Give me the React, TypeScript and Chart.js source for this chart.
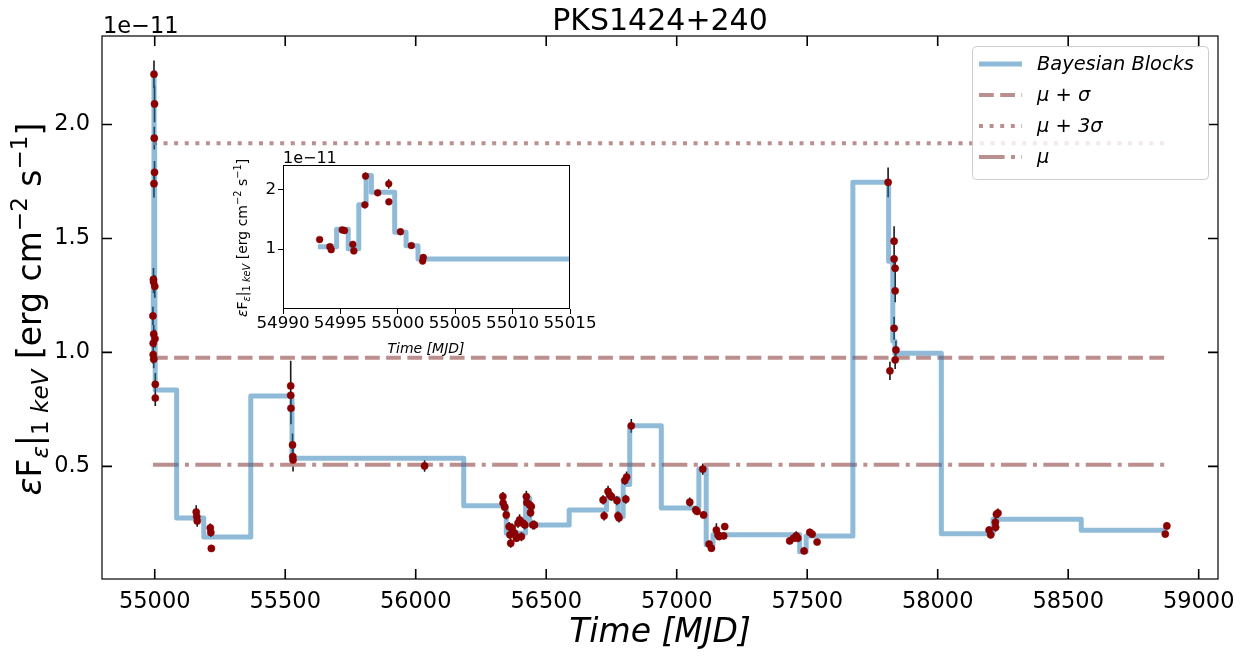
import React, { useEffect, useRef } from "react";
import { Chart, registerables } from "chart.js";
Chart.register(...registerables);

// ---------------- data (flux in units of 1e-11 erg cm^-2 s^-1) ----------------
const obsTime: number[] = [
  54993.19, 54994.08, 54994.2, 54995.16, 54995.36, 54996.08, 54996.17, 54997.13, 54997.19, 54998.25,
  54999.21, 54999.22, 55000.23, 55001.18, 55002.16, 55002.22,
  55159, 55161, 55163, 55213, 55215, 55217,
  55521, 55521, 55522, 55528, 55529, 55530, 56034,
  56334, 56335, 56341, 56347, 56358, 56361, 56364, 56370, 56379, 56386, 56392, 56398, 56405, 56411,
  56418, 56424, 56426, 56437, 56440, 56443, 56449, 56455,
  56718, 56722, 56737, 56743, 56750, 56771, 56775, 56779, 56801, 56805, 56808, 56826,
  57050, 57073, 57078, 57100, 57103, 57124, 57133, 57152, 57158, 57162, 57180, 57184,
  57433, 57448, 57458, 57464, 57488, 57510, 57519, 57538,
  57810, 57817, 57833, 57833, 57837, 57837, 57833, 57840, 57837,
  58197, 58203, 58221, 58222, 58225, 58231,
  58872, 58878,
];
const obsFlux: number[] = [
  1.16, 1.04, 0.99, 1.32, 1.31, 1.08, 0.97, 1.74, 2.22, 1.94,
  2.09, 1.79, 1.29, 1.06, 0.8, 0.86,
  0.3, 0.28, 0.26, 0.23, 0.21, 0.14,
  0.853, 0.812, 0.755, 0.594, 0.543, 0.528, 0.502,
  0.368, 0.339, 0.321, 0.287, 0.236, 0.2, 0.163, 0.229, 0.207, 0.185, 0.251, 0.265, 0.192, 0.251,
  0.243, 0.368, 0.341, 0.331, 0.297, 0.324, 0.243, 0.243,
  0.353, 0.283, 0.39, 0.375, 0.368, 0.35, 0.283, 0.274, 0.438, 0.356, 0.453, 0.678,
  0.343, 0.309, 0.302, 0.488, 0.287, 0.159, 0.141, 0.221, 0.2, 0.192, 0.195, 0.236,
  0.173, 0.185, 0.195, 0.185, 0.129, 0.211, 0.203, 0.168,
  1.746, 0.919, 1.488, 1.41, 1.369, 1.27, 1.106, 1.011, 0.967,
  0.221, 0.2, 0.255, 0.233, 0.29, 0.295,
  0.203, 0.239,
];
const obsErr: number[] = [
  0.04, 0.04, 0.04, 0.05, 0.05, 0.04, 0.04, 0.06, 0.06, 0.05,
  0.08, 0.05, 0.05, 0.04, 0.035, 0.05,
  0.03, 0.025, 0.025, 0.02, 0.02, 0.015,
  0.11, 0.06, 0.07, 0.05, 0.03, 0.05, 0.025,
  0.02, 0.02, 0.02, 0.02, 0.02, 0.02, 0.02, 0.02, 0.015, 0.015, 0.02, 0.025, 0.02, 0.02,
  0.02, 0.025, 0.02, 0.02, 0.02, 0.02, 0.02, 0.02,
  0.02, 0.02, 0.025, 0.02, 0.02, 0.02, 0.02, 0.02, 0.02, 0.02, 0.025, 0.03,
  0.02, 0.015, 0.015, 0.025, 0.015, 0.015, 0.015, 0.03, 0.02, 0.015, 0.015, 0.015,
  0.015, 0.015, 0.02, 0.015, 0.01, 0.015, 0.015, 0.01,
  0.065, 0.04, 0.065, 0.05, 0.05, 0.05, 0.05, 0.04, 0.04,
  0.015, 0.015, 0.02, 0.02, 0.02, 0.02,
  0.01, 0.015,
];

// Bayesian block edges (n+1) and block levels (n)
const blockEdges: number[] = [
  54993.04, 54994.67, 54995.68, 54996.6, 54997.24, 54997.7, 54999.73, 55000.72, 55001.76, 55084,
  55188, 55368, 55526, 56184, 56347, 56421, 56437, 56588, 56731, 56775,
  56795, 56820, 56941, 57085, 57113, 57139, 57471, 57496, 57675, 57812,
  57828, 57836, 58014, 58212, 58550, 58881,
];
const blockFlux: number[] = [
  1.04, 1.33, 1.005, 1.74, 2.23, 1.95, 1.28, 1.055, 0.835, 0.274,
  0.19, 0.809, 0.536, 0.327, 0.207, 0.36, 0.243, 0.309, 0.36, 0.28,
  0.42, 0.678, 0.317, 0.488, 0.156, 0.2, 0.126, 0.195, 1.746, 1.4,
  1.05, 0.996, 0.205, 0.268, 0.22,
];

const meanFlux = 0.507;
const stdFlux = 0.47;

const xTicksMain = [55000, 55500, 56000, 56500, 57000, 57500, 58000, 58500, 59000];
const yTicksMain = [0.5, 1.0, 1.5, 2.0];
const xTicksInset = [54990, 54995, 55000, 55005, 55010, 55015];
const yTicksInset = [1, 2];

// ---------------- styling ----------------
const FONT = "'DejaVu Sans', sans-serif";
const BLUE = "rgba(31,119,180,0.5)";
const RED = "#8b0000";
const ROSY = "#bc8f8f";
const DASH = [14.8, 6.4];
const DOT = [4, 6.6];
const DASHDOT = [25.6, 6.4, 4, 6.4];

type Seg = { t: string; it?: boolean; sub?: boolean; sup?: boolean };
const yLabelSegs: Seg[] = [
  { t: "ε", it: true },
  { t: "F" },
  { t: "ε", it: true, sub: true },
  { t: "|" },
  { t: "1 ", sub: true },
  { t: "keV", it: true, sub: true },
  { t: " [erg cm" },
  { t: "−2", sup: true },
  { t: " s" },
  { t: "−1", sup: true },
  { t: "]" },
];

function drawRich(ctx: CanvasRenderingContext2D, segs: Seg[], size: number, cx: number, cy: number, rotated: boolean) {
  const fontFor = (s: Seg) => `${s.it ? "italic " : ""}${s.sub || s.sup ? size * 0.7 : size}px ${FONT}`;
  let total = 0;
  const widths = segs.map((s) => {
    ctx.font = fontFor(s);
    const w = ctx.measureText(s.t).width;
    total += w;
    return w;
  });
  ctx.save();
  ctx.translate(cx, cy);
  if (rotated) ctx.rotate(-Math.PI / 2);
  ctx.textAlign = "left";
  ctx.textBaseline = "alphabetic";
  ctx.fillStyle = "#000";
  let xx = -total / 2;
  const base = size * 0.36;
  segs.forEach((s, i) => {
    ctx.font = fontFor(s);
    const dy = s.sub ? size * 0.22 : s.sup ? -size * 0.42 : 0;
    ctx.fillText(s.t, xx, base + dy);
    xx += widths[i];
  });
  ctx.restore();
}

function drawErrorBars(chart: any, color: string, width: number) {
  const { ctx, chartArea: a, scales } = chart;
  const x = scales.x, y = scales.y;
  ctx.save();
  ctx.beginPath();
  ctx.rect(a.left, a.top, a.right - a.left, a.bottom - a.top);
  ctx.clip();
  ctx.strokeStyle = color;
  ctx.lineWidth = width;
  ctx.beginPath();
  for (let i = 0; i < obsTime.length; i++) {
    const xp = x.getPixelForValue(obsTime[i]);
    if (xp < a.left - 2 || xp > a.right + 2) continue;
    ctx.moveTo(xp, y.getPixelForValue(obsFlux[i] - obsErr[i]));
    ctx.lineTo(xp, y.getPixelForValue(obsFlux[i] + obsErr[i]));
  }
  ctx.stroke();
  ctx.restore();
}

function buildDatasets(pointR: number, clip: number | undefined, withLines: boolean) {
  const stepPoints = blockFlux
    .map((v, i) => ({ x: blockEdges[i], y: v }))
    .concat([{ x: blockEdges[blockEdges.length - 1], y: blockFlux[blockFlux.length - 1] }]);
  const t0 = obsTime[0];
  const t1 = obsTime[obsTime.length - 1];
  const hline = (v: number, dash: number[], label: string) => ({
    label,
    data: [{ x: t0, y: v }, { x: t1, y: v }],
    borderColor: ROSY,
    borderWidth: 4,
    borderDash: dash,
    pointRadius: 0,
    fill: false,
    clip,
  });
  const sets: any[] = [
    {
      label: "obs",
      data: obsTime.map((t, i) => ({ x: t, y: obsFlux[i] })),
      showLine: false,
      pointRadius: pointR,
      pointBackgroundColor: RED,
      pointBorderColor: RED,
      pointBorderWidth: 0.5,
      clip,
    },
    {
      label: "Bayesian Blocks",
      data: stepPoints,
      stepped: "before",
      borderColor: BLUE,
      borderWidth: 5,
      borderJoinStyle: "round",
      pointRadius: 0,
      fill: false,
      clip,
    },
  ];
  if (withLines) {
    sets.push(hline(meanFlux, DASHDOT, "μ"));
    sets.push(hline(meanFlux + stdFlux, DASH, "μ + σ"));
    sets.push(hline(meanFlux + 3 * stdFlux, DOT, "μ + 3σ"));
  }
  return sets;
}

const legendRows = [
  { label: "Bayesian Blocks", color: BLUE, width: 5, dash: [] as number[] },
  { label: "μ + σ", color: ROSY, width: 4, dash: DASH },
  { label: "μ + 3σ", color: ROSY, width: 4, dash: DOT },
  { label: "μ", color: ROSY, width: 4, dash: DASHDOT },
];

const mainDecor = {
  id: "mainDecor",
  beforeDatasetsDraw(chart: any) {
    drawErrorBars(chart, "#1a1a1a", 1.6);
  },
  afterDraw(chart: any) {
    const { ctx, chartArea: a, scales } = chart;
    const x = scales.x, y = scales.y;
    ctx.save();
    ctx.strokeStyle = "#000";
    ctx.lineWidth = 1.2;
    ctx.strokeRect(a.left, a.top, a.right - a.left, a.bottom - a.top);
    ctx.lineWidth = 1.6;
    ctx.beginPath();
    for (const v of xTicksMain) {
      const p = x.getPixelForValue(v);
      ctx.moveTo(p, a.bottom);
      ctx.lineTo(p, a.bottom - 10);
      ctx.moveTo(p, a.top);
      ctx.lineTo(p, a.top + 10);
    }
    for (const v of yTicksMain) {
      const p = y.getPixelForValue(v);
      ctx.moveTo(a.left, p);
      ctx.lineTo(a.left + 10, p);
      ctx.moveTo(a.right, p);
      ctx.lineTo(a.right - 10, p);
    }
    ctx.stroke();

    ctx.fillStyle = "#000";
    ctx.textBaseline = "alphabetic";
    ctx.textAlign = "center";
    ctx.font = `30px ${FONT}`;
    ctx.fillText("PKS1424+240", 660, 30);
    ctx.textAlign = "left";
    ctx.font = `22.5px ${FONT}`;
    ctx.fillText("1e−11", 103, 33);
    ctx.textAlign = "center";
    ctx.font = `italic 33px ${FONT}`;
    ctx.fillText("Time [MJD]", 660, 642);
    drawRich(ctx, yLabelSegs, 33, 29, 309, true);

    // legend
    const L = { x: 972, y: 46, w: 236, h: 133 };
    ctx.beginPath();
    ctx.roundRect(L.x + 0.5, L.y + 0.5, L.w, L.h, 4);
    ctx.fillStyle = "rgba(255,255,255,0.8)";
    ctx.fill();
    ctx.strokeStyle = "#cccccc";
    ctx.lineWidth = 1;
    ctx.stroke();
    const rowsY = [64, 95, 126, 157];
    legendRows.forEach((r, i) => {
      const yy = rowsY[i];
      ctx.beginPath();
      ctx.setLineDash(r.dash);
      ctx.strokeStyle = r.color;
      ctx.lineWidth = r.width;
      ctx.lineCap = "butt";
      ctx.moveTo(979, yy);
      ctx.lineTo(1022, yy);
      ctx.stroke();
      ctx.setLineDash([]);
      ctx.fillStyle = "#000";
      ctx.font = `italic 19.4px ${FONT}`;
      ctx.textAlign = "left";
      ctx.textBaseline = "middle";
      ctx.fillText(r.label, 1037, yy + 1);
    });
    ctx.restore();
  },
};

const insetDecor = {
  id: "insetDecor",
  beforeDraw(chart: any) {
    const { ctx, chartArea: a } = chart;
    ctx.save();
    ctx.fillStyle = "#fff";
    ctx.fillRect(a.left, a.top, a.right - a.left, a.bottom - a.top);
    ctx.restore();
  },
  beforeDatasetsDraw(chart: any) {
    drawErrorBars(chart, "#1a1a1a", 1.3);
  },
  afterDraw(chart: any) {
    const { ctx, chartArea: a } = chart;
    ctx.save();
    ctx.strokeStyle = "#000";
    ctx.lineWidth = 1;
    ctx.strokeRect(a.left + 0.5, a.top + 0.5, a.right - a.left - 1, a.bottom - a.top - 1);
    ctx.fillStyle = "#000";
    ctx.textBaseline = "alphabetic";
    ctx.textAlign = "left";
    ctx.font = `16px ${FONT}`;
    ctx.fillText("1e−11", 83, 23);
    ctx.textAlign = "center";
    ctx.font = `italic 14px ${FONT}`;
    ctx.fillText("Time [MJD]", 226, 213);
    drawRich(ctx, yLabelSegs, 14, 42, 98, true);
    ctx.restore();
  },
};

function tickScale(min: number, max: number, ticks: number[], fmt: (v: number) => string, size: number, pad: number, fitter: (s: any) => void, outward: boolean) {
  return {
    type: "linear" as const,
    min,
    max,
    afterBuildTicks: (s: any) => {
      s.ticks = ticks.map((v) => ({ value: v }));
    },
    afterFit: fitter,
    ticks: {
      autoSkip: false,
      maxRotation: 0,
      minRotation: 0,
      padding: pad,
      color: "#000",
      font: { family: FONT, size },
      callback: (v: any) => fmt(Number(v)),
    },
    grid: outward
      ? { display: true, drawOnChartArea: false, drawTicks: true, tickLength: 5, color: "#000", lineWidth: 1 }
      : { display: false },
    border: { display: false },
  };
}

export default function App() {
  const mainRef = useRef<HTMLCanvasElement | null>(null);
  const insetRef = useRef<HTMLCanvasElement | null>(null);

  useEffect(() => {
    const main = new Chart(mainRef.current as HTMLCanvasElement, {
      type: "line",
      data: { datasets: buildDatasets(3.6, undefined, true) as any },
      options: {
        responsive: false,
        animation: false,
        events: [],
        layout: { padding: { left: 0, right: 26, top: 36, bottom: 0 } },
        plugins: { legend: { display: false }, tooltip: { enabled: false }, title: { display: false } },
        scales: {
          x: tickScale(54798, 59074, xTicksMain, (v) => String(Math.round(v)), 22.5, 2, (s) => { s.height = 82; }, false),
          y: tickScale(0.006, 2.388, yTicksMain, (v) => v.toFixed(1), 22.5, 4, (s) => { s.width = 102; }, false),
        },
      } as any,
      plugins: [mainDecor as any],
    });
    const inset = new Chart(insetRef.current as HTMLCanvasElement, {
      type: "line",
      data: { datasets: buildDatasets(3.4, 0, false) as any },
      options: {
        responsive: false,
        animation: false,
        events: [],
        layout: { padding: { left: 0, right: 40, top: 25, bottom: 0 } },
        plugins: { legend: { display: false }, tooltip: { enabled: false }, title: { display: false } },
        scales: {
          x: tickScale(54990, 55015, xTicksInset, (v) => String(Math.round(v)), 16.7, 0, (s) => { s.height = 56; }, true),
          y: tickScale(0, 2.405, yTicksInset, (v) => String(Math.round(v)), 16.7, 2, (s) => { s.width = 83; }, true),
        },
      } as any,
      plugins: [insetDecor as any],
    });
    return () => {
      main.destroy();
      inset.destroy();
    };
  }, []);

  return (
    <div style={{ position: "absolute", left: 0, top: 0, width: 1244, height: 661, background: "#fff" }}>
      <canvas ref={mainRef} width={1244} height={661} style={{ position: "absolute", left: 0, top: 0 }} />
      <canvas ref={insetRef} width={410} height={225} style={{ position: "absolute", left: 200, top: 140 }} />
    </div>
  );
}
